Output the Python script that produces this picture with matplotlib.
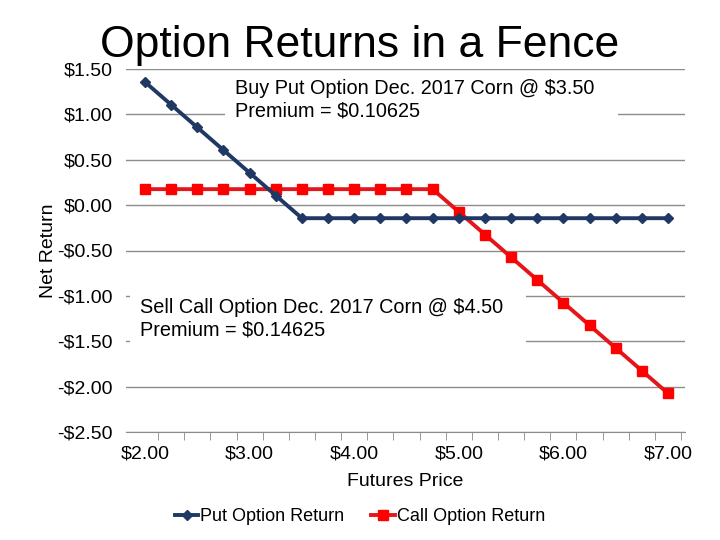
import matplotlib
matplotlib.use("Agg")
import matplotlib.pyplot as plt
from matplotlib.patches import Rectangle
from matplotlib.ticker import FixedLocator

plt.rcParams['font.family'] = ['Liberation Sans', 'DejaVu Sans']

prices = [2.00, 2.25, 2.50, 2.75, 3.00, 3.25, 3.50, 3.75, 4.00, 4.25, 4.50,
          4.75, 5.00, 5.25, 5.50, 5.75, 6.00, 6.25, 6.50, 6.75, 7.00]
put_return = [1.356, 1.106, 0.856, 0.606, 0.356, 0.106, -0.144, -0.144, -0.144,
              -0.144, -0.144, -0.144, -0.144, -0.144, -0.144, -0.144, -0.144,
              -0.144, -0.144, -0.144, -0.144]
call_return = [0.176, 0.176, 0.176, 0.176, 0.176, 0.176, 0.176, 0.176, 0.176,
               0.176, 0.176, 0.176, -0.074, -0.324, -0.574, -0.824, -1.074,
               -1.324, -1.574, -1.824, -2.074]
y_ticks = [1.5, 1.0, 0.5, 0.0, -0.5, -1.0, -1.5, -2.0, -2.5]
y_labels = ["$1.50", "$1.00", "$0.50", "$0.00", "-$0.50", "-$1.00", "-$1.50", "-$2.00", "-$2.50"]
x_ticks = [2.0, 3.0, 4.0, 5.0, 6.0, 7.0]
x_labels = ["$2.00", "$3.00", "$4.00", "$5.00", "$6.00", "$7.00"]

put_color = "#1F3864"
call_color = "#E3161B"

fig = plt.figure(figsize=(7.2, 5.4), dpi=100)
ax = fig.add_axes([126/720, 1-432/540, 559/720, 363/540])

ax.set_xlim(1.818, 7.163)
ax.set_ylim(-2.5, 1.5)

ax.set_yticks(y_ticks)
ax.set_yticklabels(y_labels)
ax.set_xticks(x_ticks)
ax.set_xticklabels(x_labels)
ax.xaxis.set_minor_locator(FixedLocator([2.125 + 0.25*i for i in range(21)]))
ax.tick_params(axis='x', which='major', length=0, labelsize=14, pad=10)
ax.tick_params(axis='x', which='minor', length=6, color='#888888', direction='out')
ax.tick_params(axis='y', length=0, labelsize=14, pad=9.5)

ax.grid(axis='y', color='#8c8c8c', lw=1)
ax.set_axisbelow(True)
for s in ['top', 'right', 'left']:
    ax.spines[s].set_visible(False)
ax.spines['bottom'].set_color('#8c8c8c')

ax.plot(prices, put_return, color=put_color, lw=2.8, marker='D', ms=5,
        label="Put Option Return", zorder=4, clip_on=False)
ax.plot(prices, call_return, color=call_color, lw=2.8, marker='s', ms=7.5,
        markerfacecolor='#FF0000', markeredgecolor='#FF0000',
        label="Call Option Return", zorder=3, clip_on=False)

# white text boxes
ax.add_patch(Rectangle((0.177, 0.843), 0.703, 0.138, transform=ax.transAxes,
                       facecolor='white', edgecolor='none', zorder=2))
ax.add_patch(Rectangle((0.007, 0.240), 0.709, 0.151, transform=ax.transAxes,
                       facecolor='white', edgecolor='none', zorder=2))
ax.text(0.195, 0.972, "Buy Put Option Dec. 2017 Corn @ $3.50\nPremium = $0.10625",
        transform=ax.transAxes, fontsize=14.3, va='top', ha='left',
        linespacing=1.2, zorder=5)
ax.text(0.025, 0.369, "Sell Call Option Dec. 2017 Corn @ $4.50\nPremium = $0.14625",
        transform=ax.transAxes, fontsize=14.3, va='top', ha='left',
        linespacing=1.2, zorder=5)

ax.set_xlabel("Futures Price", fontsize=14)
ax.xaxis.set_label_coords(0.5, -0.113)
ax.set_ylabel("Net Return", fontsize=14)
ax.yaxis.set_label_coords(-0.124, 0.5)

fig.text(0.5, 0.915, "Option Returns in a Fence", fontsize=32, ha='center', va='center')

leg = fig.legend(loc='center', bbox_to_anchor=(0.5, 0.043), ncol=2, frameon=False,
                 fontsize=13, handlelength=1.3, handletextpad=0.1, columnspacing=1.5)

fig.savefig("out.png", dpi=100)
